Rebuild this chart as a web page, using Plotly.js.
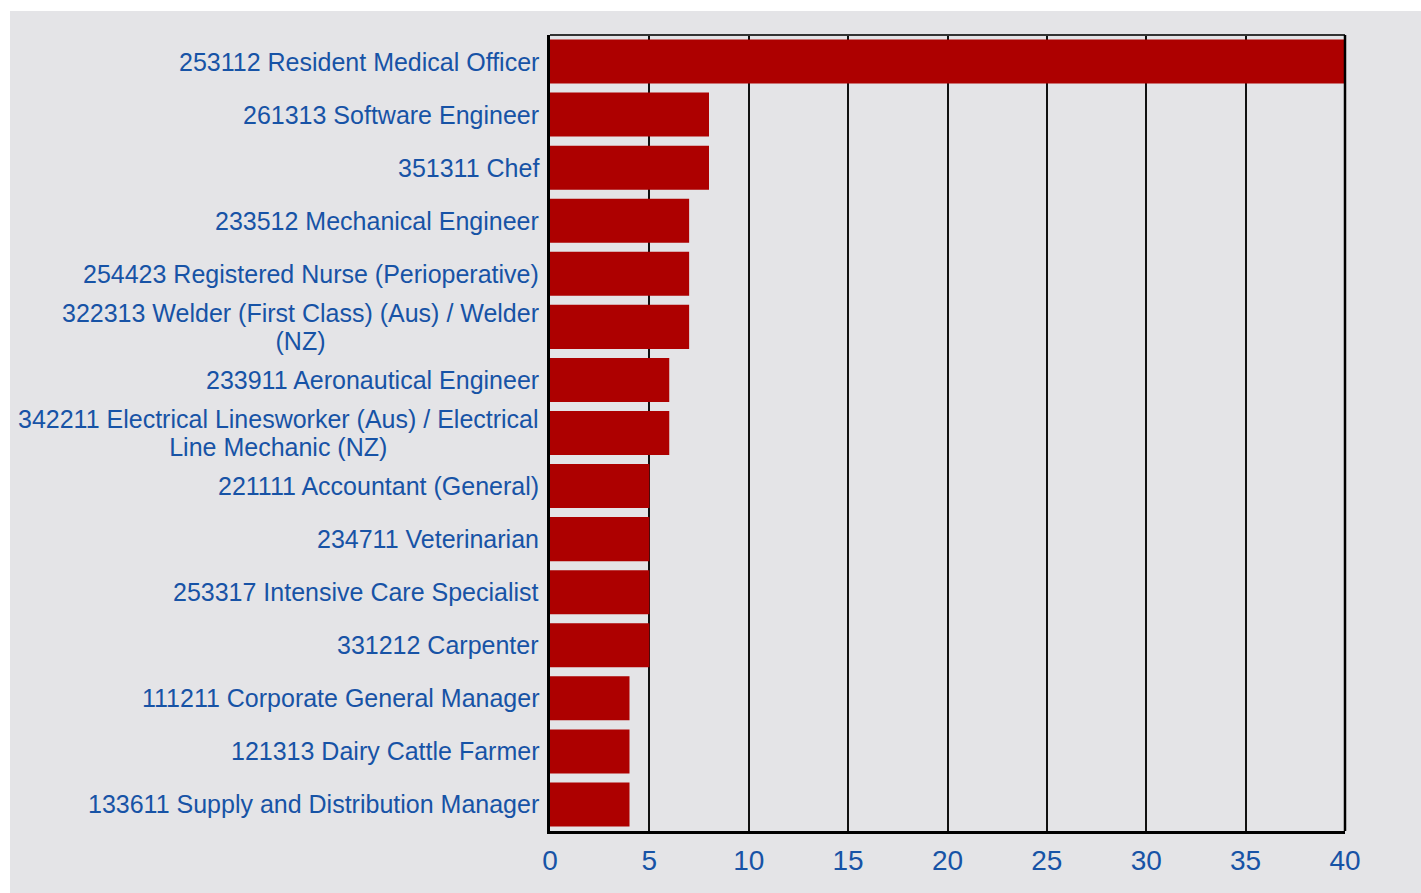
<!DOCTYPE html>
<html>
<head>
<meta charset="utf-8">
<script src="https://cdn.plot.ly/plotly-3.0.1.min.js"></script>
<style>
  html, body { margin: 0; padding: 0; background: #ffffff; }
  #chart { position: absolute; left: 10px; top: 11px; width: 1411px; height: 882px; }
</style>
</head>
<body>
<div id="chart"></div>
<script>
const categories = [
  "253112 Resident Medical Officer",
  "261313 Software Engineer",
  "351311 Chef",
  "233512 Mechanical Engineer",
  "254423 Registered Nurse (Perioperative)",
  "322313 Welder (First Class) (Aus) / Welder<br>(NZ)",
  "233911 Aeronautical Engineer",
  "342211 Electrical Linesworker (Aus) / Electrical<br>Line Mechanic (NZ)",
  "221111 Accountant (General)",
  "234711 Veterinarian",
  "253317 Intensive Care Specialist",
  "331212 Carpenter",
  "111211 Corporate General Manager",
  "121313 Dairy Cattle Farmer",
  "133611 Supply and Distribution Manager"
];
const values = [40, 8, 8, 7, 7, 7, 6, 6, 5, 5, 5, 5, 4, 4, 4];
const xTicks = [0, 5, 10, 15, 20, 25, 30, 35, 40];

const labelColor = "#1753a6";
const bg = "#e4e4e7";

const trace = {
  type: "bar",
  orientation: "h",
  x: values,
  y: categories,
  marker: { color: "#ad0000", line: { width: 0 } },
  hoverinfo: "x+y"
};

// Line spacing in Plotly = 1.3 x annotation font size; use a smaller base size
// and enlarge the glyphs via spans so the two-line labels sit closer together.
const annotations = categories.map(c => ({
  x: 0, xref: "paper", y: c, yref: "y",
  text: c.split("<br>").map(s => '<span style="font-size:25px">' + s + '</span>').join("<br>"),
  showarrow: false,
  xanchor: "right", yanchor: "middle", align: "center",
  xshift: -9, yshift: 0,
  font: { family: "Liberation Sans, Arial, sans-serif", size: 21.5, color: labelColor }
}));

const layout = {
  width: 1411, height: 882,
  paper_bgcolor: bg, plot_bgcolor: bg,
  margin: { l: 540, r: 76, t: 24, b: 62, pad: 0 },
  bargap: 0.17,
  showlegend: false,
  font: { family: "Liberation Sans, Arial, sans-serif", color: labelColor },
  xaxis: {
    range: [0, 40],
    tickvals: xTicks,
    ticktext: xTicks.map(String),
    showgrid: true, gridcolor: "#111111", gridwidth: 2,
    zeroline: false,
    showline: true, linecolor: "#000000", linewidth: 3,
    ticks: "outside", ticklen: 2, tickcolor: "rgba(0,0,0,0)",
    tickfont: { size: 28, color: labelColor }
  },
  yaxis: {
    autorange: "reversed",
    showticklabels: false,
    showgrid: false, zeroline: false,
    showline: true, linecolor: "#000000", linewidth: 3,
    ticks: ""
  },
  shapes: [
    { type: "line", xref: "paper", yref: "paper", x0: 0, x1: 1, y0: 1, y1: 1,
      line: { color: "#333333", width: 2 } },
    { type: "line", xref: "paper", yref: "paper", x0: 1, x1: 1, y0: 0, y1: 1,
      line: { color: "#000000", width: 2.5 } }
  ],
  annotations: annotations
};

Plotly.newPlot("chart", [trace], layout, { displayModeBar: false, staticPlot: true });
</script>
</body>
</html>
